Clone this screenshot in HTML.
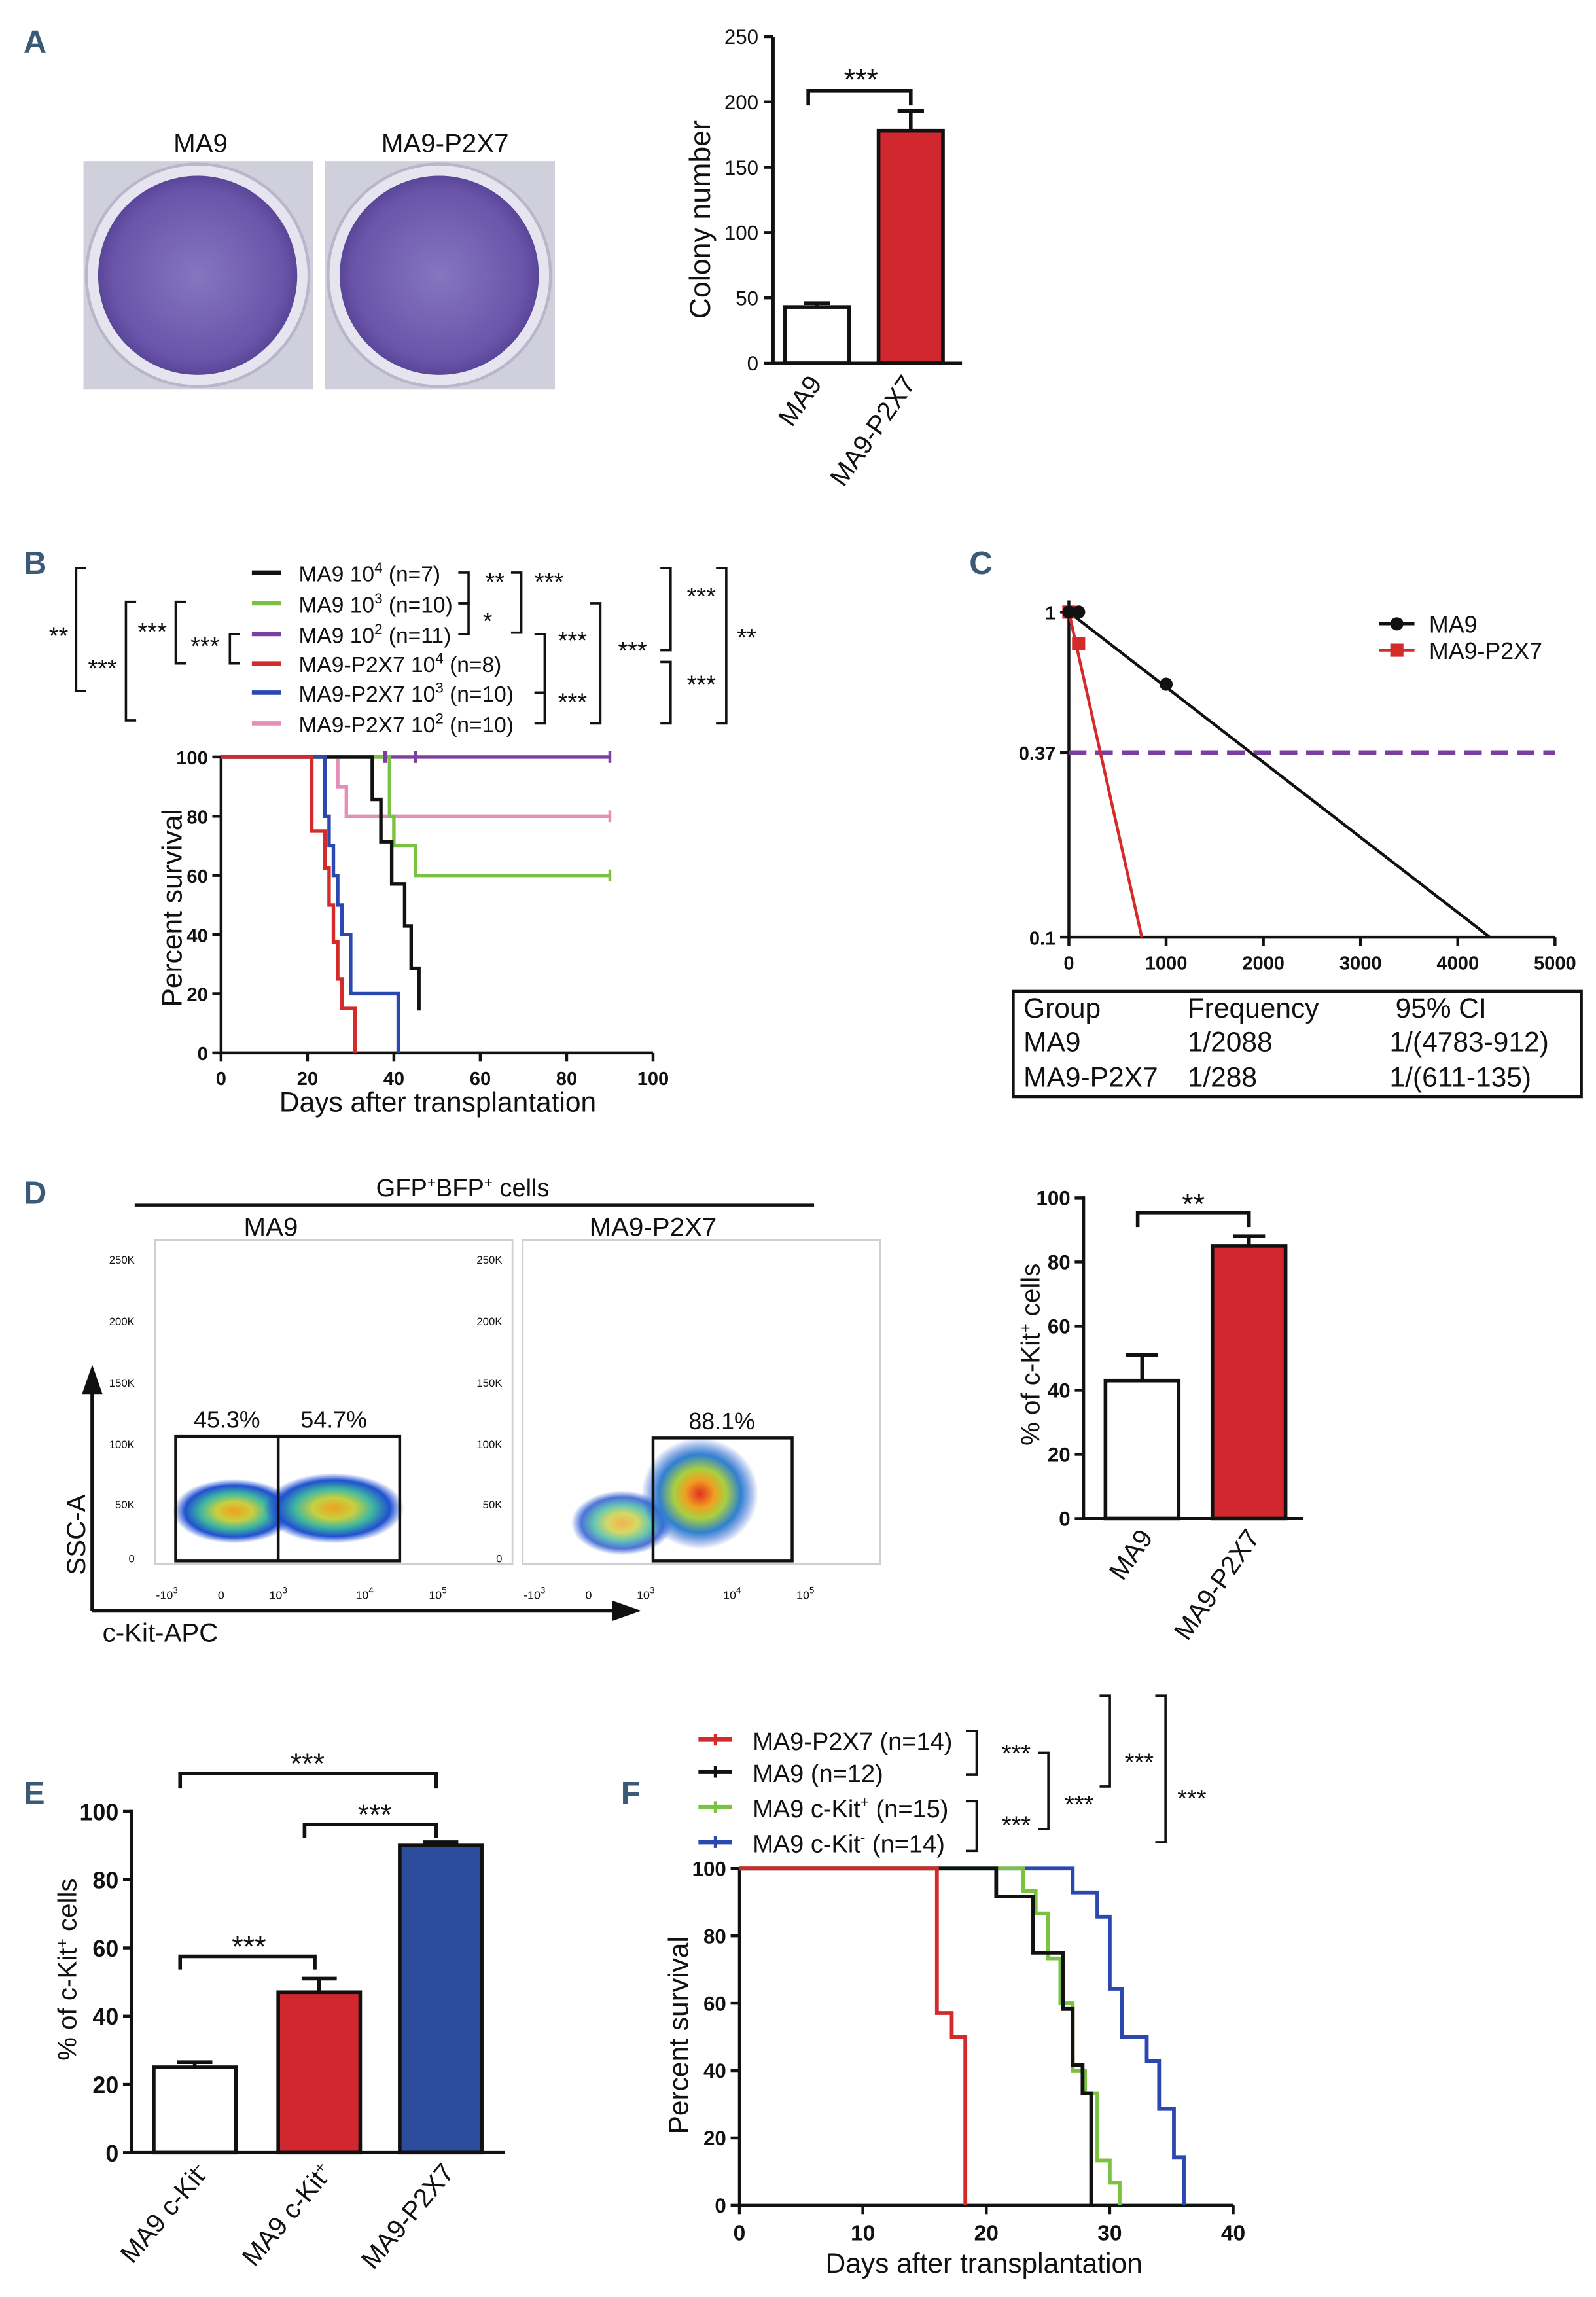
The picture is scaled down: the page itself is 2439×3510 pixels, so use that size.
<!DOCTYPE html>
<html><head><meta charset="utf-8">
<style>
html,body{margin:0;padding:0;background:#fff;}
svg{display:block;}
text{font-family:"Liberation Sans",sans-serif;}
</style></head>
<body>
<svg id="fig" xmlns="http://www.w3.org/2000/svg" width="2439" height="3510" viewBox="0 0 1090 1568.6">
<defs>
<radialGradient id="dish" cx="50%" cy="50%" r="50%">
<stop offset="0" stop-color="#8576c0"/><stop offset="0.85" stop-color="#6a55aa"/><stop offset="1" stop-color="#5a4699"/></radialGradient>
<radialGradient id="flow1" cx="50%" cy="50%" r="50%">
<stop offset="0" stop-color="#f0a020"/><stop offset="0.3" stop-color="#c8d040"/><stop offset="0.55" stop-color="#40b8a0"/><stop offset="0.8" stop-color="#2050d0"/><stop offset="1" stop-color="#2050d0" stop-opacity="0"/></radialGradient>
<radialGradient id="flow2" cx="50%" cy="50%" r="50%">
<stop offset="0" stop-color="#e03020"/><stop offset="0.25" stop-color="#f0a020"/><stop offset="0.45" stop-color="#a8d040"/><stop offset="0.7" stop-color="#3080d0"/><stop offset="1" stop-color="#2050d0" stop-opacity="0"/></radialGradient>
</defs>
<g id="root"></g>
</svg>
<script>
// ---------- data ----------
var aCats=["MA9","MA9-P2X7"];
var aVals=[43,178];
var aErr=[46,193];
var aTicks=[0,50,100,150,200,250];

var bTicksX=[0,20,40,60,80,100];
var bTicksY=[0,20,40,60,80,100];
var bBlackT=[35,37,39.5,42.5,44,45.8];
var bBlackV=[85.7,71.4,57.1,42.9,28.6,14.3,0];
var bGreenT=[39,40,45];
var bGreenV=[80,70,60];
var bRedT=[21,24,25,26,27,28,31];
var bRedV=[75,62.5,50,37.5,25,15,0];
var bBlueT=[24,25,26,27,28,30,41];
var bBlueV=[80,70,60,50,40,20,0];
var bPinkT=[27,29];
var bPinkV=[90,80];

var cTicksX=[0,1000,2000,3000,4000,5000];
var cMA9Dose=[0,100,1000];
var cMA9Frac=[1,1,0.6];
var cP2Dose=[0,100];
var cP2Frac=[1,0.8];
var cMA9End=4330, cP2End=750, cDash=0.37;

var dCats=["MA9","MA9-P2X7"];
var dVals=[43,85];
var dErr=[51,88];
var dTicks=[0,20,40,60,80,100];

var eCats=["MA9 c-Kit-","MA9 c-Kit+","MA9-P2X7"];
var eVals=[25,47,90];
var eErr=[26.5,51,91];
var eTicks=[0,20,40,60,80,100];

var fTicksX=[0,10,20,30,40];
var fTicksY=[0,20,40,60,80,100];
var fRedT=[16,17.2,18.3];
var fRedV=[57.1,50,0];
var fBlackT=[20.8,23.8,26.2,27,27.8,28.5];
var fBlackV=[91.7,75,58.3,41.7,33.3,0];
var fGreenT=[23,24,25,26,27,28,29,30,30.8];
var fGreenV=[93.3,86.7,73.3,60,40,33.3,13.3,6.7,0];
var fBlueT=[27,29,30,31,33,34,35.2,36];
var fBlueV=[92.9,85.7,64.3,50,42.9,28.6,14.3,0];

// ---------- helpers ----------
var NS="http://www.w3.org/2000/svg";
var root=document.getElementById('root');
function el(tag,attrs,parent,txt){var e=document.createElementNS(NS,tag);for(var k in attrs)e.setAttribute(k,attrs[k]);if(txt!==undefined)e.textContent=txt;(parent||root).appendChild(e);return e;}
function line(x1,y1,x2,y2,c,w,p){return el('line',{x1:x1,y1:y1,x2:x2,y2:y2,stroke:c||'#111','stroke-width':w||2},p);}
function txt(x,y,s,size,anchor,p,extra){var a={x:x,y:y,'font-size':size||14,'text-anchor':anchor||'start',fill:'#111'};if(extra)for(var k in extra)a[k]=extra[k];return el('text',a,p,s);}
function grp(name){var g=el('g',{});return g;}
function stepPath(T,V,sx,sy,end){var d='M'+sx(0)+','+sy(100);for(var i=0;i<T.length;i++){d+=' H'+sx(T[i])+' V'+sy(V[i]);}if(end!==undefined)d+=' H'+sx(end);return d;}
var LBL={'font-weight':'bold',fill:'#3a5a78'};

// ---------- Panel A ----------
var gA=grp('panel-a');
var la=txt(16,36,'A',22,'start',gA,LBL);
[[57,'MA9',137],[222,'MA9-P2X7',304]].forEach(function(d,i){
  var g=grp('petri-dish-'+(i?'ma9-p2x7':'ma9'));gA.appendChild(g);
  el('rect',{x:d[0],y:110,width:157,height:156,fill:'#cfd0dc'},g);
  el('circle',{cx:d[0]+78,cy:188,r:76,fill:'#e6e4ee',stroke:'#b8b6c8','stroke-width':2},g);
  el('circle',{cx:d[0]+78,cy:188,r:68,fill:'url(#dish)'},g);
  txt(d[2],104,d[1],18,'middle',g);
});
var gAb=grp('colony-bar-chart');gA.appendChild(gAb);
var aY=function(v){return 248-v*(223/250);};
line(528,25,528,249,'#111',2.2,gAb);line(527,248,657,248,'#111',2.2,gAb);
aTicks.forEach(function(t){line(522,aY(t),528,aY(t),'#111',2,gAb);txt(518,aY(t)+5,t,14,'end',gAb);});
var aX=[558,622];var aFill=['#fff','#d0282e'];
aVals.forEach(function(v,i){
  var b=el('rect',{x:aX[i]-22,y:aY(v),width:44,height:aY(0)-aY(v),fill:aFill[i],stroke:'#111','stroke-width':2.5},gAb);
  
  line(aX[i],aY(v),aX[i],aY(aErr[i]),'#111',2.5,gAb);line(aX[i]-9,aY(aErr[i]),aX[i]+9,aY(aErr[i]),'#111',2.5,gAb);
  txt(aX[i]+4,262,aCats[i],18,'end',gAb,{transform:'rotate(-55 '+(aX[i]+4)+' 262)'});
});
el('path',{d:'M552,72 V62 H622 V72',fill:'none',stroke:'#111','stroke-width':2.5},gAb);
txt(588,61,'***',20,'middle',gAb);
txt(0,0,'Colony number',20,'middle',gAb,{transform:'translate(485,150) rotate(-90)'});

// ---------- Panel B ----------
var gB=grp('panel-b');
txt(16,392,'B',22,'start',gB,LBL);
var bLeg=[['#111','MA9 10','4',' (n=7)'],['#7cc242','MA9 10','3',' (n=10)'],['#7b3fa0','MA9 10','2',' (n=11)'],['#d42a2a','MA9-P2X7 10','4','  (n=8)'],['#2a48b0','MA9-P2X7 10','3',' (n=10)'],['#e58fb8','MA9-P2X7 10','2',' (n=10)']];
var bLy=[391,412,433,453,473,494];
bLeg.forEach(function(d,i){var g=grp('legend-entry-b-'+(i+1));gB.appendChild(g);
  line(172,bLy[i],192,bLy[i],d[0],3,g);
  var t=el('text',{x:204,y:bLy[i]+6,'font-size':15,fill:'#111'},g);
  el('tspan',{},t,d[1]);el('tspan',{dy:-6,'font-size':10},t,d[2]);el('tspan',{dy:6},t,d[3]);
});
var bs='#111';
function brk(x,y1,y2,dir,g){el('path',{d:'M'+(x+dir*7)+','+y1+' H'+x+' V'+y2+' H'+(x+dir*7),fill:'none',stroke:bs,'stroke-width':1.6},g||gB);}
brk(52,388,472,1);txt(40,440,'**',17,'middle',gB);
brk(86,411,492,1);txt(70,462,'***',17,'middle',gB);
brk(120,411,453,1);txt(104,437,'***',17,'middle',gB);
brk(157,433,453,1);txt(140,447,'***',17,'middle',gB);
brk(320,391,412,-1);txt(338,403,'**',17,'middle',gB);
brk(320,412,433,-1);txt(333,430,'*',17,'middle',gB);
brk(356,391,432,-1);txt(375,403,'***',17,'middle',gB);
brk(372,433,473,-1);txt(391,443,'***',17,'middle',gB);
brk(372,473,494,-1);txt(391,485,'***',17,'middle',gB);
brk(410,412,494,-1);txt(432,450,'***',17,'middle',gB);
brk(458,388,444,-1);txt(479,413,'***',17,'middle',gB);
brk(458,452,494,-1);txt(479,473,'***',17,'middle',gB);
brk(496,388,494,-1);txt(510,441,'**',17,'middle',gB);
var gBc=grp('survival-chart-b');gB.appendChild(gBc);
var bX=function(v){return 151+v*2.95;},bY=function(v){return 719-v*2.02;};
line(151,516,151,720,'#111',2,gBc);line(150,719,446,719,'#111',2,gBc);
bTicksY.forEach(function(t){line(145,bY(t),151,bY(t),'#111',2,gBc);txt(142,bY(t)+5,t,13,'end',gBc,{'font-weight':'bold'});});
bTicksX.forEach(function(t){line(bX(t),719,bX(t),725,'#111',2,gBc);txt(bX(t),741,t,13,'middle',gBc,{'font-weight':'bold'});});
txt(299,759,'Days after transplantation',19,'middle',gBc);
txt(0,0,'Percent survival',19,'middle',gBc,{transform:'translate(124,620) rotate(-90)'});
[['#7b3fa0',[],[],90,'purple-10-2'],['#e58fb8',bPinkT,bPinkV,90,'pink-p2x7-10-2'],['#7cc242',bGreenT,bGreenV,90,'green-10-3'],['#111',bBlackT,bBlackV,undefined,'black-10-4'],['#2a48b0',bBlueT,bBlueV,undefined,'blue-p2x7-10-3'],['#d42a2a',bRedT,bRedV,undefined,'red-p2x7-10-4']].forEach(function(s){
  var p=el('path',{d:stepPath(s[1],s[2],bX,bY,s[3]),fill:'none',stroke:s[0],'stroke-width':2.4},gBc);
  
  if(s[3]!==undefined){var lv=s[2].length?s[2][s[2].length-1]:100;line(bX(90),bY(lv)-4,bX(90),bY(lv)+4,s[0],2,gBc);}
});
line(bX(38),bY(100)-4,bX(38),bY(100)+4,'#7b3fa0',3,gBc);line(bX(45),bY(100)-4,bX(45),bY(100)+4,'#7b3fa0',2,gBc);

// ---------- Panel C ----------
var gC=grp('panel-c');
txt(662,392,'C',22,'start',gC,LBL);
var cX=function(v){return 730+v*0.0664;},cY=function(v){return 418+(-Math.log10(v))*222;};
line(730,410,730,641,'#111',2,gC);line(729,640,1062,640,'#111',2,gC);
[[1,'1'],[0.37,'0.37'],[0.1,'0.1']].forEach(function(t){line(724,cY(t[0]),730,cY(t[0]),'#111',2,gC);txt(721,cY(t[0])+5,t[1],13,'end',gC,{'font-weight':'bold'});});
cTicksX.forEach(function(t){line(cX(t),640,cX(t),646,'#111',2,gC);txt(cX(t),662,t,13,'middle',gC,{'font-weight':'bold'});});
var dash=el('line',{x1:730,y1:cY(cDash),x2:1062,y2:cY(cDash),stroke:'#7b3fa0','stroke-width':3,'stroke-dasharray':'12,6'},gC);

var l1=line(cX(0),cY(1),cX(cMA9End),cY(0.1),'#111',2,gC);
var l2=line(cX(0),cY(1),cX(cP2End),cY(0.1),'#d42a2a',2,gC);
cP2Dose.forEach(function(d,i){el('rect',{x:cX(d)-4.5,y:cY(cP2Frac[i])-4.5,width:9,height:9,fill:'#d42a2a'},gC);});
cMA9Dose.forEach(function(d,i){el('circle',{cx:cX(d),cy:cY(cMA9Frac[i]),r:4.5,fill:'#111'},gC);});
line(942,426,966,426,'#111',2,gC);el('circle',{cx:954,cy:426,r:4.5,fill:'#111'},gC);txt(976,432,'MA9',16,'start',gC);
line(942,444,966,444,'#d42a2a',2,gC);el('rect',{x:949.5,y:439.5,width:9,height:9,fill:'#d42a2a'},gC);txt(976,450,'MA9-P2X7',16,'start',gC);
var gT=grp('frequency-table');gC.appendChild(gT);
el('rect',{x:692,y:677,width:388,height:72,fill:'none',stroke:'#111','stroke-width':2},gT);
[['Group','Frequency','95% CI',695],['MA9','1/2088','1/(4783-912)',718],['MA9-P2X7','1/288','1/(611-135)',742]].forEach(function(r){
  txt(699,r[3],r[0],19,'start',gT);txt(811,r[3],r[1],19,'start',gT);txt(r[0]==='Group'?953:949,r[3],r[2],19,'start',gT);});

// ---------- Panel D ----------
var gD=grp('panel-d');
txt(16,822,'D',22,'start',gD,LBL);
var ht=el('text',{x:316,y:817,'font-size':17,'text-anchor':'middle',fill:'#111'},gD);
el('tspan',{},ht,'GFP');el('tspan',{dy:-6,'font-size':10},ht,'+');el('tspan',{dy:6},ht,'BFP');el('tspan',{dy:-6,'font-size':10},ht,'+');el('tspan',{dy:6},ht,' cells');
line(92,823,556,823,'#111',2,gD);
txt(185,844,'MA9',18,'middle',gD);txt(446,844,'MA9-P2X7',18,'middle',gD);
[[106,'ma9'],[357,'ma9-p2x7']].forEach(function(d,i){
  var g=grp('flow-plot-'+d[1]);gD.appendChild(g);
  var x0=d[0];
  el('rect',{x:x0,y:847,width:244,height:221,fill:'#fff',stroke:'#cfcfcf','stroke-width':1.2},g);
  [['250K',860],['200K',902],['150K',944],['100K',986],['50K',1027],['0',1064]].forEach(function(t){txt(x0-14,t[1]+3,t[0],7.5,'end',g);});
  [['-10',x0+8,'3'],['0',x0+45,''],['10',x0+84,'3'],['10',x0+143,'4'],['10',x0+193,'5']].forEach(function(t){var tt=el('text',{x:t[1],y:1092,'font-size':8,'text-anchor':'middle',fill:'#111'},g);el('tspan',{},tt,t[0]);if(t[2])el('tspan',{dy:-4,'font-size':6},tt,t[2]);});
  if(i===0){
    el('ellipse',{cx:160,cy:1032,rx:42,ry:22,fill:'url(#flow1)'},g);
    el('ellipse',{cx:228,cy:1030,rx:48,ry:24,fill:'url(#flow1)'},g);
    el('rect',{x:120,y:981,width:153,height:85,fill:'none',stroke:'#111','stroke-width':2},g);
    line(190,981,190,1066,'#111',2,g);
    txt(155,975,'45.3%',16,'middle',g);txt(228,975,'54.7%',16,'middle',g);
  } else {
    el('ellipse',{cx:425,cy:1040,rx:35,ry:22,fill:'url(#flow1)',opacity:0.8},g);
    el('ellipse',{cx:478,cy:1020,rx:40,ry:38,fill:'url(#flow2)'},g);
    el('rect',{x:446,y:982,width:95,height:84,fill:'none',stroke:'#111','stroke-width':2},g);
    txt(493,976,'88.1%',16,'middle',g);
  }
});
line(63,1100,63,945,'#111',2.5,gD);el('path',{d:'M63,932 L56,952 L70,952 Z',fill:'#111'},gD);
line(63,1100,425,1100,'#111',2.5,gD);el('path',{d:'M438,1100 L418,1093 L418,1107 Z',fill:'#111'},gD);
txt(0,0,'SSC-A',18,'middle',gD,{transform:'translate(58,1048) rotate(-90)'});
txt(70,1121,'c-Kit-APC',18,'start',gD);
var gDb=grp('ckit-bar-chart-d');gD.appendChild(gDb);
var dY=function(v){return 1037-v*2.19;};
line(740,817,740,1038,'#111',2.2,gDb);line(739,1037,890,1037,'#111',2.2,gDb);
dTicks.forEach(function(t){line(734,dY(t),740,dY(t),'#111',2,gDb);txt(731,dY(t)+5,t,14,'end',gDb,{'font-weight':'bold'});});
var dX=[780,853],dF=['#fff','#d0282e'];
dVals.forEach(function(v,i){
  var b=el('rect',{x:dX[i]-25,y:dY(v),width:50,height:dY(0)-dY(v),fill:dF[i],stroke:'#111','stroke-width':2.5},gDb);
  
  line(dX[i],dY(v),dX[i],dY(dErr[i]),'#111',2.5,gDb);line(dX[i]-11,dY(dErr[i]),dX[i]+11,dY(dErr[i]),'#111',2.5,gDb);
  txt(dX[i]+8,1050,dCats[i],18,'end',gDb,{transform:'rotate(-55 '+(dX[i]+8)+' 1050)'});
});
el('path',{d:'M777,838 V828 H853 V838',fill:'none',stroke:'#111','stroke-width':2.5},gDb);
txt(815,829,'**',20,'middle',gDb);
var yt=el('text',{'font-size':18,'text-anchor':'middle',fill:'#111',transform:'translate(710,925) rotate(-90)'},gDb);
el('tspan',{},yt,'% of c-Kit');el('tspan',{dy:-6,'font-size':11},yt,'+');el('tspan',{dy:6},yt,' cells');

// ---------- Panel E ----------
var gE=grp('panel-e');
txt(16,1232,'E',22,'start',gE,LBL);
var eY=function(v){return 1470-v*2.33;};
line(90,1236,90,1471,'#111',2.2,gE);line(89,1470,345,1470,'#111',2.2,gE);
eTicks.forEach(function(t){line(84,eY(t),90,eY(t),'#111',2,gE);txt(81,eY(t)+6,t,16,'end',gE,{'font-weight':'bold'});});
var eX=[133,218,301],eF=['#fff','#d0282e','#2c4c9c'];
eVals.forEach(function(v,i){
  var b=el('rect',{x:eX[i]-28,y:eY(v),width:56,height:eY(0)-eY(v),fill:eF[i],stroke:'#111','stroke-width':2.5},gE);
  
  line(eX[i],eY(v),eX[i],eY(eErr[i]),'#111',2.5,gE);line(eX[i]-12,eY(eErr[i]),eX[i]+12,eY(eErr[i]),'#111',2.5,gE);
  var lab=el('text',{x:eX[i]+10,y:1484,'font-size':18,'text-anchor':'end',fill:'#111',transform:'rotate(-50 '+(eX[i]+10)+' 1484)'},gE);
  var parts=eCats[i].match(/^(.*?)([+-])?$/);
  el('tspan',{},lab,parts[1]);if(parts[2])el('tspan',{dy:-6,'font-size':11},lab,parts[2]);
});
el('path',{d:'M123,1221 V1211 H298 V1221',fill:'none',stroke:'#111','stroke-width':2.5},gE);txt(210,1211,'***',20,'middle',gE);
el('path',{d:'M208,1255 V1246 H298 V1255',fill:'none',stroke:'#111','stroke-width':2.5},gE);txt(256,1246,'***',20,'middle',gE);
el('path',{d:'M123,1345 V1336 H215 V1345',fill:'none',stroke:'#111','stroke-width':2.5},gE);txt(170,1336,'***',20,'middle',gE);
var ye=el('text',{'font-size':18,'text-anchor':'middle',fill:'#111',transform:'translate(52,1345) rotate(-90)'},gE);
el('tspan',{},ye,'% of c-Kit');el('tspan',{dy:-6,'font-size':11},ye,'+');el('tspan',{dy:6},ye,' cells');

// ---------- Panel F ----------
var gF=grp('panel-f');
txt(424,1232,'F',22,'start',gF,LBL);
var fLeg=[['#d42a2a','MA9-P2X7 (n=14)',1188],['#111','MA9 (n=12)',1210],['#7cc242','MA9 c-Kit+ (n=15)',1234],['#2a48b0','MA9 c-Kit- (n=14)',1258]];
fLeg.forEach(function(d,i){var g=grp('legend-entry-f-'+(i+1));gF.appendChild(g);
  line(477,d[2],500,d[2],d[0],3,g);line(488.5,d[2]-4,488.5,d[2]+4,d[0],2,g);
  var m=d[1].match(/^(MA9 c-Kit)([+-])(.*)$/);
  var t=el('text',{x:514,y:d[2]+7,'font-size':17,fill:'#111'},g);
  if(m){el('tspan',{},t,m[1]);el('tspan',{dy:-7,'font-size':10},t,m[2]);el('tspan',{dy:7},t,m[3]);}else t.textContent=d[1];
});
brk(667,1182,1212,-1,gF);txt(694,1203,'***',17,'middle',gF);
brk(667,1230,1264,-1,gF);txt(694,1252,'***',17,'middle',gF);
brk(716,1197,1249,-1,gF);txt(737,1238,'***',17,'middle',gF);
brk(758,1158,1220,-1,gF);txt(778,1209,'***',17,'middle',gF);
brk(796,1158,1258,-1,gF);txt(814,1234,'***',17,'middle',gF);
var fX=function(v){return 505+v*8.43;},fY=function(v){return 1506-v*2.3;};
line(505,1275,505,1507,'#111',2,gF);line(504,1506,842,1506,'#111',2,gF);
fTicksY.forEach(function(t){line(499,fY(t),505,fY(t),'#111',2,gF);txt(496,fY(t)+5,t,14,'end',gF,{'font-weight':'bold'});});
fTicksX.forEach(function(t){line(fX(t),1506,fX(t),1512,'#111',2,gF);txt(fX(t),1530,t,15,'middle',gF,{'font-weight':'bold'});});
txt(672,1552,'Days after transplantation',19,'middle',gF);
txt(0,0,'Percent survival',19,'middle',gF,{transform:'translate(470,1390) rotate(-90)'});
[['#2a48b0',fBlueT,fBlueV,'blue-ckit-neg'],['#7cc242',fGreenT,fGreenV,'green-ckit-pos'],['#111',fBlackT,fBlackV,'black-ma9'],['#d42a2a',fRedT,fRedV,'red-ma9-p2x7']].forEach(function(s){
  var p=el('path',{d:stepPath(s[1],s[2],fX,fY),fill:'none',stroke:s[0],'stroke-width':2.6},gF);
  
});
</script>
</body></html>
